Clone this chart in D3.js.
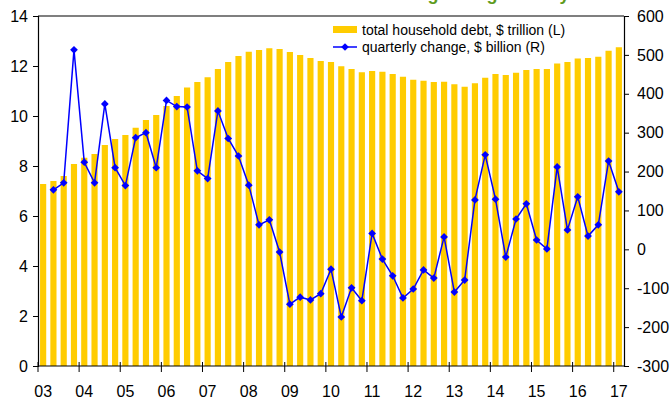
<!DOCTYPE html>
<meta charset="utf-8">
<script src="https://cdn.jsdelivr.net/npm/d3@7"></script>
<style>
  body { margin: 0; background: #fff; }
  text { font-family: "Liberation Sans", Arial, sans-serif; }
</style>
<div id="chart"></div>
<script>
// years shown on the axis, quarters built from them (2003Q1 .. 2017Q1)
var years = ["03","04","05","06","07","08","09","10","11","12","13","14","15","16","17"];
var quarters = [];
years.forEach(function(y) {
  for (var q = 1; q <= 4; q++) {
    if (y === "17" && q > 1) break;
    quarters.push(y + "Q" + q);
  }
});

// total household debt, $ trillion (left axis)
var debt = [7.28, 7.40, 7.60, 8.08, 8.33, 8.48, 8.84, 9.08, 9.24, 9.53,
            9.84, 10.04, 10.40, 10.80, 11.14, 11.36, 11.55, 11.88, 12.16, 12.40,
            12.57, 12.64, 12.71, 12.68, 12.56, 12.44, 12.32, 12.20, 12.16, 11.99,
            11.88, 11.75, 11.80, 11.77, 11.68, 11.57, 11.45, 11.41, 11.36, 11.37,
            11.27, 11.17, 11.31, 11.53, 11.68, 11.64, 11.73, 11.84, 11.88, 11.88,
            12.10, 12.16, 12.30, 12.32, 12.37, 12.61, 12.75];

// quarterly change, $ billion (right axis)
var change = [null, 153, 171, 513, 224, 171, 374, 210, 164, 287,
              300, 210, 383, 367, 366, 202, 182, 356, 285, 240,
              165, 63, 76, -7, -141, -123, -130, -114, -51, -174,
              -99, -132, 41, -25, -68, -125, -102, -53, -74, 32,
              -110, -79, 127, 243, 129, -20, 78, 117, 24, 1,
              212, 50, 135, 34, 63, 227, 148];

var leftTicks = [0, 2, 4, 6, 8, 10, 12, 14];
var rightTicks = [-300, -200, -100, 0, 100, 200, 300, 400, 500, 600];

var W = 670, H = 400;
var margin = {top: 16, right: 46, bottom: 34, left: 38};
var width = W - margin.left - margin.right,
    height = H - margin.top - margin.bottom;

var FONT = "'Liberation Sans', Arial, sans-serif";

var svg = d3.select("#chart").append("svg")
    .attr("width", W).attr("height", H);

// title, mostly cut off at the top edge
svg.append("text")
    .attr("x", 345).attr("y", 0)
    .attr("text-anchor", "middle")
    .style("font-size", "18px").style("font-weight", "bold")
    .style("fill", "#5f9b1c")
    .text("US household debt continues to be growing steadily");

var g = svg.append("g")
    .attr("transform", "translate(" + margin.left + "," + margin.top + ")");

var x = d3.scaleBand().domain(quarters).range([0, width]).padding(0);
var yL = d3.scaleLinear().domain([0, 14]).range([height, 0]);
var yR = d3.scaleLinear().domain([-300, 600]).range([height, 0]);

var bw = x.bandwidth();
var barW = bw * 0.6;

// bars
g.selectAll(".bar")
  .data(quarters)
  .enter().append("rect")
    .attr("x", function(d) { return x(d) + (bw - barW) / 2; })
    .attr("width", barW)
    .attr("y", function(d, i) { return yL(debt[i]); })
    .attr("height", function(d, i) { return height - yL(debt[i]); })
    .attr("fill", "#ffcc00");

// top border of the plot area
g.append("line")
    .attr("x1", 0).attr("x2", width).attr("y1", 0).attr("y2", 0)
    .attr("stroke", "#000").attr("stroke-width", 1.2);

var plain = function(d) { return String(d); };

// left axis
var axL = g.append("g")
    .call(d3.axisLeft(yL).tickValues(leftTicks).tickFormat(plain).tickSize(5).tickPadding(5));
// right axis
var axR = g.append("g")
    .attr("transform", "translate(" + width + ",0)")
    .call(d3.axisRight(yR).tickValues(rightTicks).tickFormat(plain).tickSize(5).tickPadding(8));
[axL, axR].forEach(function(a) {
  a.attr("font-family", FONT).attr("font-size", 16);
  a.select(".domain").attr("stroke", "#000").attr("stroke-width", 1.2);
  a.selectAll(".tick line").attr("stroke", "#000");
  a.selectAll("text").attr("fill", "#000");
});

// bottom axis: ticks at year boundaries, labels under each Q1 bar
var xa = g.append("g").attr("transform", "translate(0," + height + ")");
xa.append("line")
    .attr("x1", 0).attr("x2", width)
    .attr("stroke", "#000").attr("stroke-width", 1.2);
var q1 = quarters.filter(function(d) { return d.slice(2) === "Q1"; });
xa.selectAll(".yt").data(q1).enter().append("line")
    .attr("x1", function(d) { return x(d); })
    .attr("x2", function(d) { return x(d); })
    .attr("y1", -4).attr("y2", 6)
    .attr("stroke", "#000");
xa.selectAll(".yl").data(q1).enter().append("text")
    .attr("x", function(d) { return x(d) + bw / 2; })
    .attr("y", 31)
    .attr("text-anchor", "middle")
    .style("font-size", "16px")
    .text(function(d) { return d.slice(0, 2); });

// quarterly change line
var pts = quarters.map(function(d, i) { return {q: d, v: change[i]}; })
                  .filter(function(d) { return d.v !== null; });
g.append("path")
    .datum(pts)
    .attr("fill", "none")
    .attr("stroke", "#0000ff")
    .attr("stroke-width", 1.5)
    .attr("d", d3.line()
      .x(function(d) { return x(d.q) + bw / 2; })
      .y(function(d) { return yR(d.v); }));

var diamond = d3.symbol().type(d3.symbolSquare).size(30);
g.selectAll(".mk").data(pts).enter().append("path")
    .attr("d", diamond)
    .attr("transform", function(d) {
      return "translate(" + (x(d.q) + bw / 2) + "," + yR(d.v) + ") rotate(45)";
    })
    .attr("fill", "#0000ff");

// legend
var lg = svg.append("g").attr("transform", "translate(333,26)");
lg.append("rect").attr("x", 0).attr("y", 0).attr("width", 24).attr("height", 7).attr("fill", "#ffcc00");
lg.append("text").attr("x", 29).attr("y", 8.5).style("font-size", "14px")
    .text("total household debt, $ trillion (L)");
lg.append("line").attr("x1", 0).attr("x2", 24).attr("y1", 21).attr("y2", 21)
    .attr("stroke", "#0000ff").attr("stroke-width", 1.5);
lg.append("path").attr("d", diamond).attr("transform", "translate(12,21) rotate(45)").attr("fill", "#0000ff");
lg.append("text").attr("x", 29).attr("y", 26).style("font-size", "14px")
    .text("quarterly change, $ billion (R)");
</script>
